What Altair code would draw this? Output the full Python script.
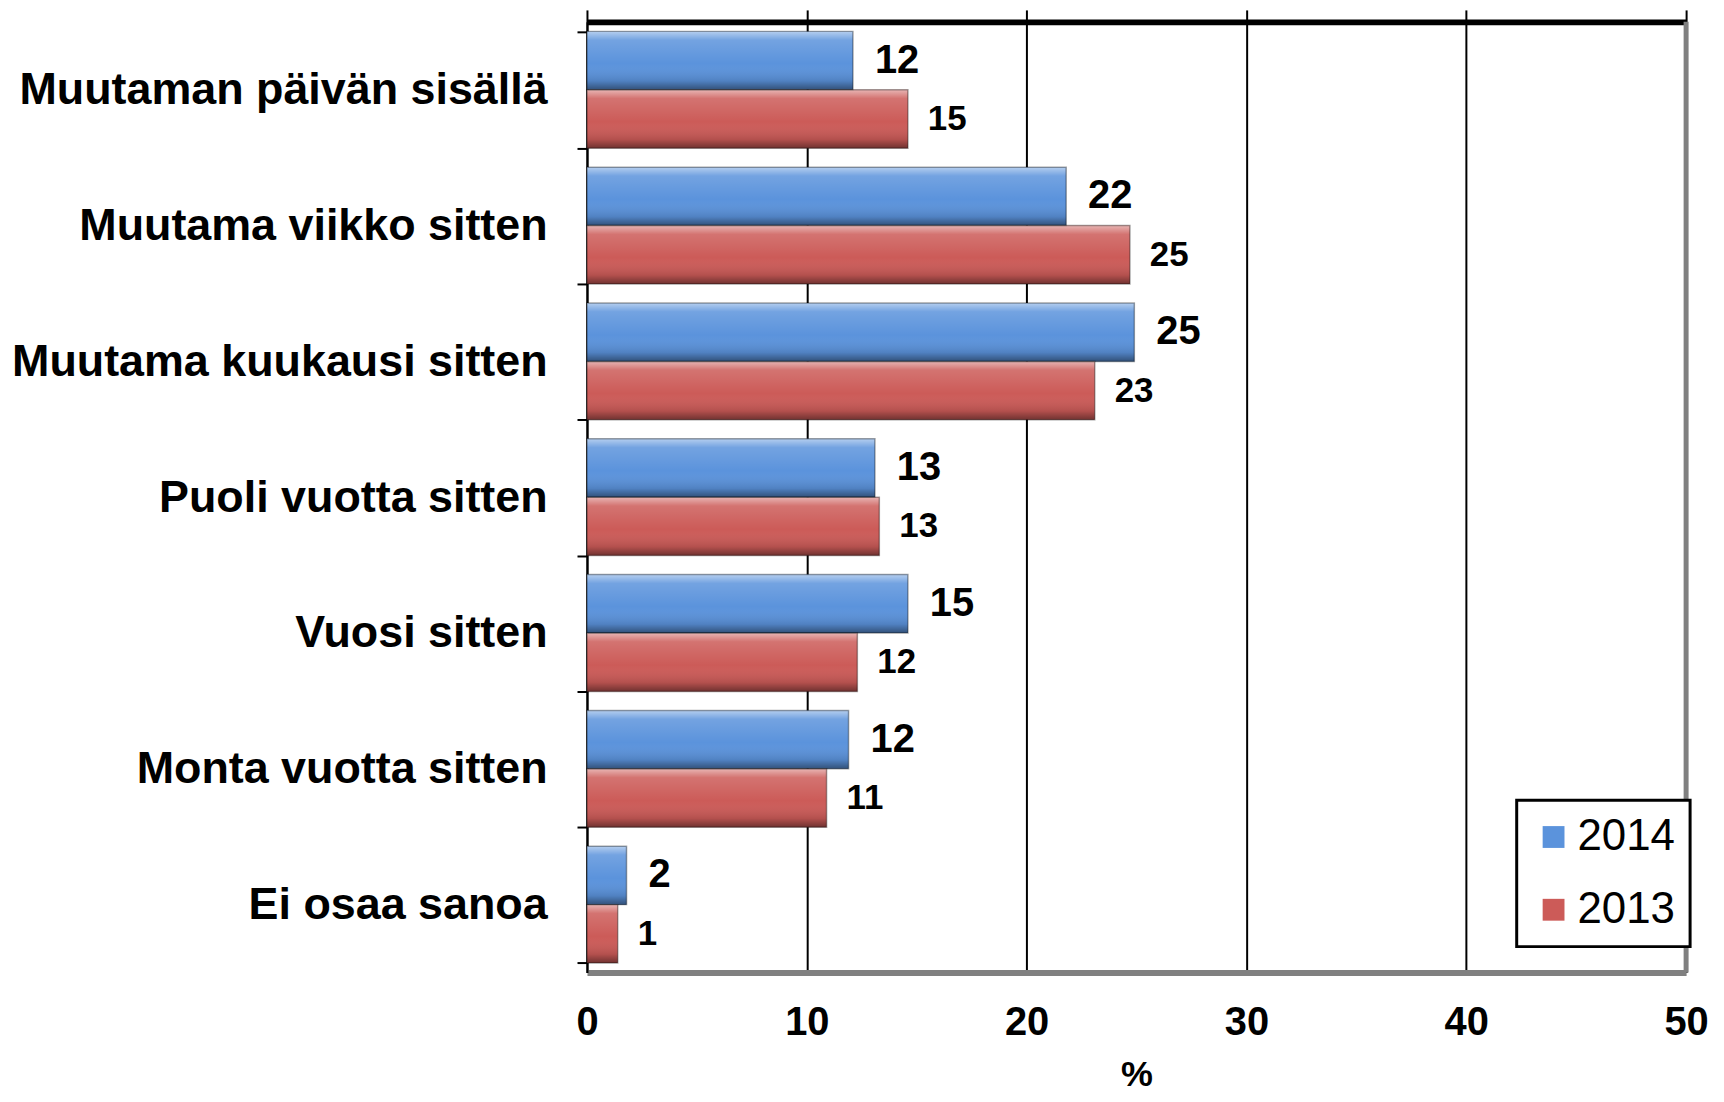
import altair as alt
import pandas as pd

categories = [
    "Muutaman päivän sisällä",
    "Muutama viikko sitten",
    "Muutama kuukausi sitten",
    "Puoli vuotta sitten",
    "Vuosi sitten",
    "Monta vuotta sitten",
    "Ei osaa sanoa",
]
years = ["2014", "2013"]
values_2014 = [12.1, 21.8, 24.9, 13.1, 14.6, 11.9, 1.8]
values_2013 = [14.6, 24.7, 23.1, 13.3, 12.3, 10.9, 1.4]
labels_2014 = ["12", "22", "25", "13", "15", "12", "2"]
labels_2013 = ["15", "25", "23", "13", "12", "11", "1"]
x_ticks = [0, 10, 20, 30, 40, 50]
x_title = "%"
colors = ["#5b93dc", "#cc5b58"]

rows = []
for c, v4, v3, l4, l3 in zip(categories, values_2014, values_2013, labels_2014, labels_2013):
    rows.append({"cat": c, "year": "2014", "value": v4, "label": l4})
    rows.append({"cat": c, "year": "2013", "value": v3, "label": l3})
df = pd.DataFrame(rows)

FONT = "Liberation Sans"
xscale = alt.Scale(domain=[0, 50], nice=False, zero=True)

y_enc = alt.Y(
    "cat:N",
    sort=categories,
    scale=alt.Scale(paddingInner=0.14, paddingOuter=0.07),
    axis=alt.Axis(
        title=None,
        labelFont=FONT,
        labelFontSize=45,
        labelFontWeight="bold",
        labelColor="black",
        labelPadding=30,
        labelLimit=800,
        domainColor="black",
        domainWidth=2,
        tickColor="black",
        tickWidth=2,
        tickSize=10,
        tickBand="extent",
    ),
)
yoff = alt.YOffset("year:N", sort=years)

base = alt.Chart(df)

bars = base.mark_bar().encode(
    x=alt.X(
        "value:Q",
        scale=xscale,
        axis=alt.Axis(
            orient="bottom",
            values=x_ticks,
            title=x_title,
            titleFont=FONT,
            titleFontSize=36,
            titleFontWeight="bold",
            titleColor="black",
            titlePadding=15,
            labelFont=FONT,
            labelFontSize=40,
            labelFontWeight="bold",
            labelColor="black",
            labelPadding=30,
            labelFlush=False,
            ticks=False,
            domainColor="#808080",
            domainWidth=6,
            grid=True,
            gridColor="black",
            gridWidth=2,
        ),
    ),
    y=y_enc,
    yOffset=yoff,
    color=alt.Color(
        "year:N",
        sort=years,
        scale=alt.Scale(domain=years, range=colors),
        legend=alt.Legend(
            title=None,
            orient="none",
            legendX=933,
            legendY=781,
            symbolType="square",
            symbolSize=480,
            symbolStrokeWidth=0,
            labelFont=FONT,
            labelFontSize=44,
            labelColor="black",
            labelOffset=2,
            rowPadding=29,
            padding=15,
            strokeColor="black",
            fillColor="white",
        ),
    ),
)

shade = base.mark_bar(
    fill=alt.Gradient(
        gradient="linear",
        x1=0, x2=0, y1=0, y2=1,
        stops=[
            alt.GradientStop(offset=0, color="rgba(255,255,255,0.55)"),
            alt.GradientStop(offset=0.15, color="rgba(255,255,255,0.15)"),
            alt.GradientStop(offset=0.55, color="rgba(255,255,255,0)"),
            alt.GradientStop(offset=0.85, color="rgba(0,0,0,0.12)"),
            alt.GradientStop(offset=1, color="rgba(0,0,0,0.45)"),
        ],
    ),
    stroke="rgba(0,0,0,0.35)",
    strokeWidth=1.5,
).encode(
    x=alt.X(
        "value:Q",
        scale=xscale,
        axis=alt.Axis(
            orient="top",
            values=x_ticks,
            title=None,
            labels=False,
            grid=False,
            domainColor="black",
            domainWidth=6,
            tickColor="black",
            tickWidth=2,
            tickSize=12,
        ),
    ),
    y=y_enc,
    yOffset=yoff,
)

text14 = base.transform_filter(alt.datum.year == "2014").mark_text(
    align="left", baseline="middle", dx=22, font=FONT, fontSize=40, fontWeight="bold", color="black"
).encode(
    x=alt.X("value:Q", scale=xscale, axis=None),
    y=y_enc,
    yOffset=yoff,
    text="label:N",
)
text13 = base.transform_filter(alt.datum.year == "2013").mark_text(
    align="left", baseline="middle", dx=20, font=FONT, fontSize=35, fontWeight="bold", color="black"
).encode(
    x=alt.X("value:Q", scale=xscale, axis=None),
    y=y_enc,
    yOffset=yoff,
    text="label:N",
)

right_wall = alt.Chart(pd.DataFrame({"x": [x_ticks[-1]]})).mark_rule(
    color="#808080", strokeWidth=5
).encode(x=alt.X("x:Q", scale=xscale, axis=None))

chart = (
    alt.layer(bars, right_wall, shade, text14, text13)
    .resolve_axis(x="independent")
    .properties(
        width=1103,
        height=954,
        autosize=alt.AutoSizeParams(type="none"),
        padding={"left": 581, "top": 12, "right": 30, "bottom": 126},
        background="white",
    )
    .configure_view(stroke=None)
    .configure_legend(strokeWidth=3)
)

chart.save("out.html", embed_options={"renderer": "svg", "actions": False})
